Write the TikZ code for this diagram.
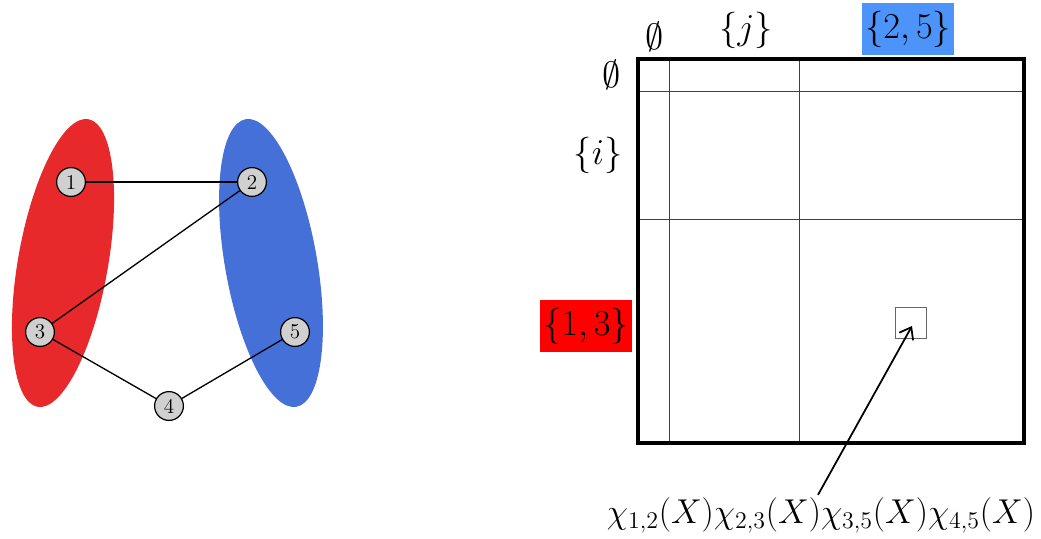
\documentclass[tikz,border=0pt]{standalone}
\usetikzlibrary{arrows.meta}
\definecolor{ellred}{RGB}{232,41,43}
\definecolor{ellblue}{RGB}{69,112,216}
\definecolor{boxred}{RGB}{255,0,0}
\definecolor{boxblue}{RGB}{76,148,250}
\definecolor{vfill}{RGB}{208,208,208}
\tikzset{
  vertex/.style={circle,draw=black,line width=0.7pt,fill=vfill,minimum size=16.4pt,inner sep=0pt,font=\fontsize{12}{14}\selectfont},
  edge/.style={line width=0.75pt},
  lab/.style={inner sep=0pt,font=\fontsize{20.74}{23}\selectfont},
  chilab/.style={inner sep=0pt,scale=0.946,font=\fontsize{20.74}{23}\selectfont},
  hilite/.style={inner sep=0pt,minimum width=52pt,minimum height=30pt,font=\fontsize{20.74}{23}\selectfont},
  outer/.style={line width=2.2pt},
  grid/.style={line width=0.5pt,black!75},
}
\begin{document}
\begin{tikzpicture}[x=0.02cm,y=-0.02cm]
\useasboundingbox (0,0) rectangle (1041,538);
% ellipses
\fill[ellred,rotate around={-10:(63,263)}] (63,263) ellipse [x radius=45,y radius=146];
\fill[ellblue,rotate around={10:(271,263)}] (271,263) ellipse [x radius=46,y radius=146];
% graph
\node[vertex] (v1) at (71,182) {1};
\node[vertex] (v2) at (252,182) {2};
\node[vertex] (v3) at (40,332) {3};
\node[vertex] (v4) at (169,406) {4};
\node[vertex] (v5) at (295,332) {5};
\draw[edge] (v1) -- (v2);
\draw[edge] (v2) -- (v3);
\draw[edge] (v3) -- (v4);
\draw[edge] (v4) -- (v5);
% matrix
\coordinate (tl) at (638,59);
\coordinate (br) at (1024,443);
\draw[grid] (669,59) -- (669,443);
\draw[grid] (799,59) -- (799,443);
\draw[grid] (638,91) -- (1024,91);
\draw[grid] (638,219) -- (1024,219);
\draw[outer] (tl) rectangle (br);
\node[draw=black!60,line width=0.6pt,minimum size=18pt,inner sep=0pt] (cell) at (911,323) {};
% labels
\node[lab] (c0) at (655,37) {$\emptyset$};
\node[lab] (cj) at (746,30) {$\{j\}$};
\node[hilite,fill=boxblue] (c25) at (908,29) {$\{2,5\}$};
\node[lab] (r0) at (612,75) {$\emptyset$};
\node[lab] (ri) at (598,155) {$\{i\}$};
\node[hilite,fill=boxred] (r13) at (586,326) {$\{1,3\}$};
\node[chilab] (chi) at (821,515) {$\chi_{1,2}(X)\chi_{2,3}(X)\chi_{3,5}(X)\chi_{4,5}(X)$};
\draw[line width=1pt,-{Straight Barb[length=6pt,width=9pt]}] (chi.north) ++(-3,-2) coordinate (as) -- (912,326) coordinate (ae);
\end{tikzpicture}
\end{document}
